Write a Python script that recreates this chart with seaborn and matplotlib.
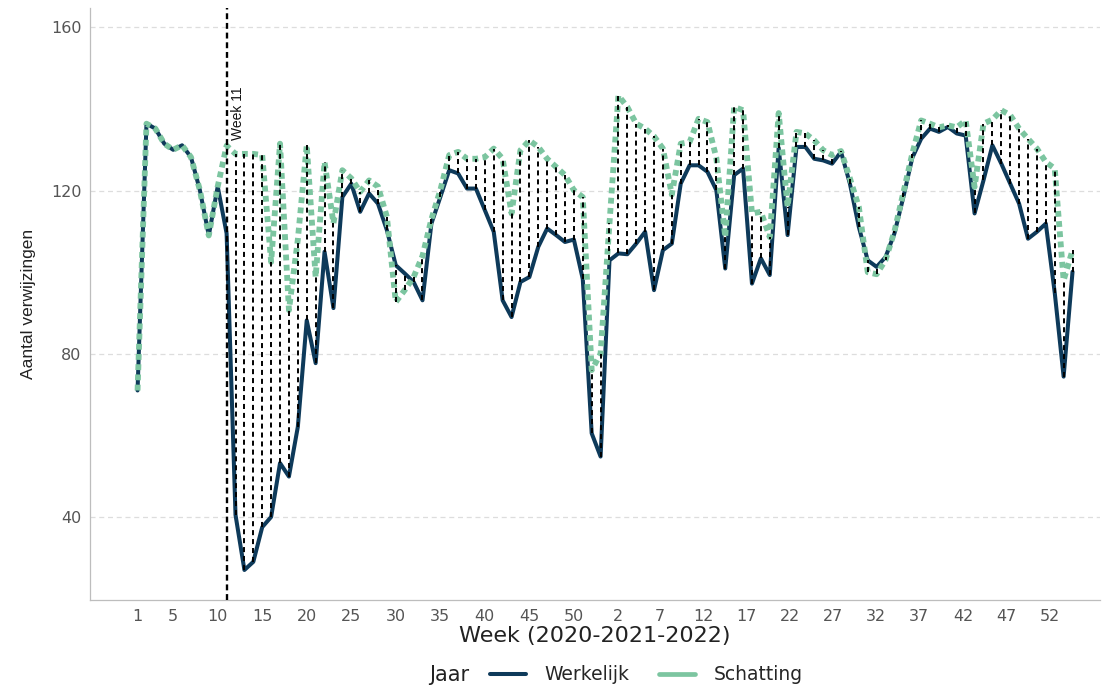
import numpy as np
import pandas as pd
import matplotlib
matplotlib.use("Agg")
import matplotlib.pyplot as plt
from matplotlib.lines import Line2D
import seaborn as sns

# weken: 2020 (53 weken), 2021 (52 weken), 2022 week 1
weken = np.arange(1, 107)

werkelijk = [
    71, 136.4, 135.2, 131.5, 130, 131.1, 128.2, 120.1, 109, 121,
    109.5, 40.5, 27, 29, 37.5, 40, 53.2, 49.9, 62.1, 88.2,
    77.7, 105, 91.2, 118.4, 121.7, 114.8, 119.3, 116.8, 110.3, 101.7,
    99.7, 97.6, 93.1, 111.9, 118.4, 125, 124.2, 120.5, 120.5, 115.2,
    109.9, 93.1, 89, 97.6, 98.8, 106.2, 110.7, 109.1, 107.4, 108,
    98.3, 60.5, 54.8, 102.9, 104.6, 104.4, 107, 109.9, 95.6, 105.4,
    107, 121.7, 126.2, 126.2, 124.6, 120.1, 100.9, 123.8, 125.4, 97.2,
    103.4, 99.3, 130.5, 109.1, 130.7, 130.7, 127.8, 127.4, 126.6, 129.5,
    121.7, 111.1, 102.9, 101.3, 103.7, 109.5, 118.4, 128, 132.7, 135.2,
    134.4, 135.6, 134, 133.5, 114.4, 122.5, 131.1, 126.6, 121.7, 116.8,
    108.2, 109.9, 111.9, 95, 74.4, 100.1,
]

schatting = [
    71, 136.4, 135.2, 131.5, 130, 131.1, 128.2, 120.1, 109, 121,
    131, 129, 129, 129, 128.7, 102.5, 131.5, 90.7, 108, 131.1,
    98.8, 127, 112, 125, 123, 119.7, 122.5, 121, 113.6, 92.7,
    95.6, 98.8, 104, 113, 120.1, 128.7, 129.5, 127.8, 127.8, 128.2,
    130.3, 127.8, 114.4, 129.9, 132.3, 130.7, 127.8, 125.8, 123.8, 120.1,
    118.4, 76, 80, 112, 143.3, 140.5, 136.4, 135.2, 133.3, 130.3,
    119, 131.5, 131.9, 137.6, 136.8, 128, 108.6, 140.5, 139.7, 114.4,
    114.8, 108.6, 139, 116, 134.4, 134, 132.3, 129.9, 128.7, 129.7,
    123, 116, 100, 99.5, 103, 110, 119.5, 129, 137.2, 136.4,
    135.5, 136, 135.5, 137.2, 120.9, 136.4, 137.4, 139.7, 138.5, 135.2,
    132.7, 130.3, 127, 125.4, 98, 105.4,
]

# as-labels zoals in de originele figuur
tick_pos = [1, 5, 10, 15, 20, 25, 30, 35, 40, 45, 50,
            54.9, 59.7, 64.56, 69.43, 74.3, 79.13, 83.96, 88.79, 93.7, 98.57, 103.42]
tick_labels = ["1", "5", "10", "15", "20", "25", "30", "35", "40", "45", "50",
               "2", "7", "12", "17", "22", "27", "32", "37", "42", "47", "52"]

start_week = 11

navy = "#0e3a5a"
groen = "#7cc5a0"

df = pd.DataFrame({"Week": weken, "Werkelijk": werkelijk, "Schatting": schatting})
df_long = df.melt(id_vars="Week", var_name="Jaar", value_name="Aantal")

sns.set_theme(style="white")
plt.rcParams["font.family"] = ["DejaVu Sans"]
smal = ["Liberation Sans", "DejaVu Sans"]

fig = plt.figure(figsize=(11.09, 6.87), dpi=100)
ax = fig.add_axes([0.081, 0.127, 0.911, 0.861])

sns.lineplot(data=df_long[df_long["Jaar"] == "Werkelijk"], x="Week", y="Aantal",
             color=navy, lw=2.9, estimator=None, ax=ax, zorder=3)
sns.lineplot(data=df_long[df_long["Jaar"] == "Schatting"], x="Week", y="Aantal",
             color=groen, lw=4.2, ls=(0, (1.0, 0.75)), estimator=None, ax=ax, zorder=4)

# verschil tussen werkelijk en schatting
sel = df["Week"] > start_week
ax.vlines(df.loc[sel, "Week"],
          df.loc[sel, ["Werkelijk", "Schatting"]].min(axis=1),
          df.loc[sel, ["Werkelijk", "Schatting"]].max(axis=1),
          colors="black", linestyles=(0, (2.6, 2.0)), lw=1.4, zorder=5)

ax.axvline(start_week, color="black", ls=(0, (2.5, 1.6)), lw=1.7, zorder=6)
ax.text(start_week + 0.45, 132.5, "Week 11", rotation=90, ha="left", va="bottom",
        fontsize=10, color="#111111", family=smal)

ax.set_xlim(-4.36, 109.1)
ax.set_ylim(19.7, 164.7)
ax.set_yticks([40, 80, 120, 160])
ax.set_xticks(tick_pos)
ax.set_xticklabels(tick_labels)
ax.yaxis.grid(True, color="#dddddd", ls=(0, (4, 3)), lw=0.9)
ax.xaxis.grid(False)

for s in ["top", "right"]:
    ax.spines[s].set_visible(False)
for s in ["left", "bottom"]:
    ax.spines[s].set_color("#bdbdbd")
    ax.spines[s].set_linewidth(0.9)

ax.tick_params(axis="both", which="major", length=3, width=1.2, color="#333333",
               labelcolor="#555555", labelsize=11.5, pad=3)
ax.tick_params(axis="x", pad=4)

ax.set_xlabel("Week (2020-2021-2022)", fontsize=16, color="#222222", labelpad=1)
ax.set_ylabel("Aantal verwijzingen", fontsize=12.5, color="#222222", labelpad=11,
              family=smal)

handles = [Line2D([], [], color=navy, lw=2.9),
           Line2D([], [], color=groen, lw=3.4)]
fig.legend(handles, ["Werkelijk", "Schatting"], loc="center",
           bbox_to_anchor=(0.583, 0.018), ncol=2, frameon=False, fontsize=13.5,
           handlelength=1.9, columnspacing=1.6, handletextpad=1.0)
fig.text(0.405, 0.018, "Jaar", ha="center", va="center", fontsize=15, color="#222222")

fig.savefig("out.png", dpi=100)
